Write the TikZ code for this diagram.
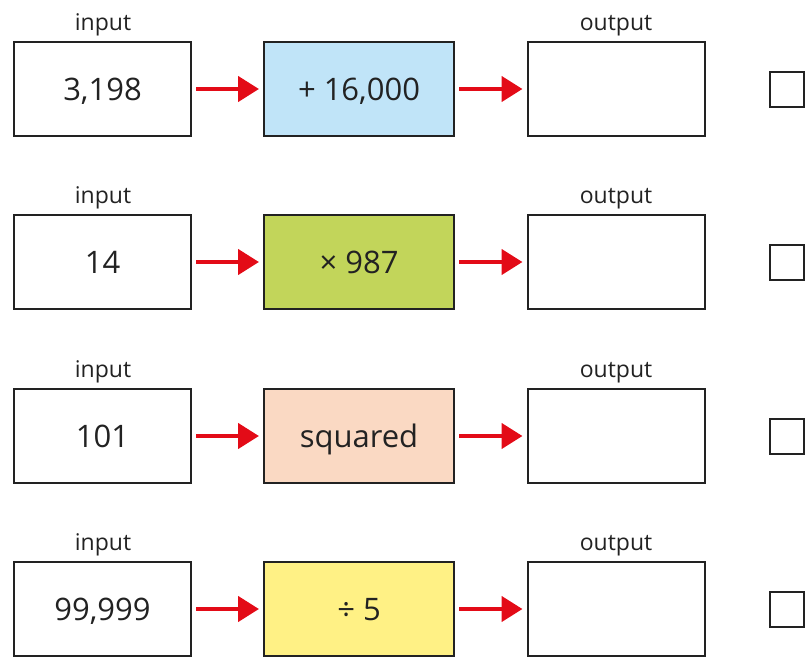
\documentclass[tikz,border=0pt]{standalone}
\usepackage{fontspec}
\setmainfont{Open Sans}
\usetikzlibrary{arrows.meta}
\definecolor{opblue}{HTML}{C0E4F8}
\definecolor{opgreen}{HTML}{C2D55A}
\definecolor{oppeach}{HTML}{FAD9C3}
\definecolor{opyellow}{HTML}{FFF185}
\definecolor{arrred}{HTML}{E30B17}
\definecolor{boxline}{HTML}{222222}
\tikzset{
  x=1pt, y=-1pt,
  iobox/.style={draw=boxline, line width=2pt, rectangle, minimum width=177pt, minimum height=94pt, inner sep=0pt, font=\fontsize{31}{31}\selectfont, text=boxline, text height=22pt, text depth=-4pt},
  opbox/.style={iobox, minimum width=190pt},
  lbl/.style={font=\fontsize{23}{23}\selectfont, text=boxline, inner sep=0pt, anchor=base},
  tick/.style={draw=boxline, line width=2pt, rectangle, minimum width=34pt, minimum height=35pt, inner sep=0pt},
  arr/.style={draw=arrred, line width=4.5pt, -{Triangle[length=21pt,width=25pt]}, shorten <=4pt, shorten >=4pt}
}
\begin{document}
\begin{tikzpicture}
\useasboundingbox (0,0) rectangle (808,656);
\begin{scope}
\clip (0,0) rectangle (808,656);
\foreach \r/\y/\inp/\op/\col in {1/89/{3,198}/{+ 16,000}/opblue, 2/262/{14}/{× 987}/opgreen, 3/436/{101}/{squared}/oppeach, 4/609/{99,999}/{÷ 5}/opyellow}{
  \node[iobox] (in\r) at (102.5,\y) {\inp};
  \node[opbox, fill=\col] (op\r) at (359,\y) {\op};
  \node[iobox] (out\r) at (616,\y) {};
  \node[tick] (chk\r) at (787,\y) {};
  \node[lbl] (il\r) at (103,\y-59) {input};
  \node[lbl] (ol\r) at (616,\y-59) {output};
  \draw[arr] (in\r) -- (op\r);
  \draw[arr] (op\r) -- (out\r);
}
\end{scope}
\end{tikzpicture}
\end{document}
